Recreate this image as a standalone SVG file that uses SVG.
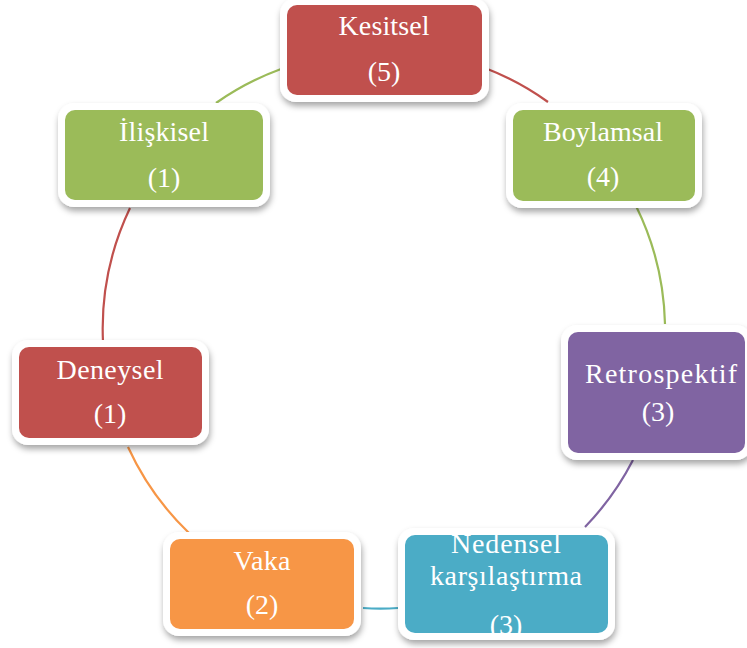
<svg xmlns="http://www.w3.org/2000/svg" width="747" height="648" viewBox="0 0 747 648">
<defs>
<filter id="sh" x="-10%" y="-10%" width="120%" height="130%">
<feDropShadow dx="1" dy="4" stdDeviation="3" flood-color="#000" flood-opacity="0.35"/>
</filter>
<style>
.frame{fill:#fff;filter:url(#sh);}
.t{font-family:"Liberation Serif","Times New Roman",serif;font-size:28px;fill:#fff;text-anchor:middle;}
.c{fill:none;stroke-width:2.2;}
</style>
</defs>
<rect width="747" height="648" fill="#fff"/>
<g id="connectors">
<path class="c" stroke="#C0504D" d="M485,68 A281,281 0 0 1 548,102"/>
<path class="c" stroke="#9BBB59" d="M636,206 A281,281 0 0 1 665,324"/>
<path class="c" stroke="#8064A2" d="M633,460 A281,281 0 0 1 585,527"/>
<path class="c" stroke="#4BACC6" d="M398,608 A281,281 0 0 1 363,608"/>
<path class="c" stroke="#F79646" d="M189,533 A281,281 0 0 1 128,447"/>
<path class="c" stroke="#C0504D" d="M103,342 A281,281 0 0 1 130,208"/>
<path class="c" stroke="#9BBB59" d="M216,103 A281,281 0 0 1 281,69"/>
</g>
<g id="kesitsel">
<rect class="frame" x="280" y="-2" width="209" height="104" rx="16"/>
<rect x="287" y="5" width="195" height="90" rx="10" fill="#C0504D"/>
<text class="t" x="384" y="35" textLength="91" lengthAdjust="spacing">Kesitsel</text>
<text class="t" x="384" y="81">(5)</text>
</g>
<g id="boylamsal">
<rect class="frame" x="506" y="103" width="196" height="105" rx="16"/>
<rect x="513" y="110" width="182" height="91" rx="10" fill="#9BBB59"/>
<text class="t" x="603" y="141" textLength="120" lengthAdjust="spacing">Boylamsal</text>
<text class="t" x="603" y="186">(4)</text>
</g>
<g id="retrospektif">
<rect class="frame" x="561" y="325" width="191" height="135" rx="16"/>
<rect x="568" y="332" width="177" height="121" rx="10" fill="#8064A2"/>
<text class="t" x="661" y="383" textLength="152" lengthAdjust="spacing">Retrospektif</text>
<text class="t" x="658" y="421">(3)</text>
</g>
<g id="nedensel">
<rect class="frame" x="398" y="528" width="217" height="112" rx="16"/>
<rect x="405" y="535" width="203" height="98" rx="10" fill="#4BACC6"/>
<text class="t" x="506" y="553" textLength="110" lengthAdjust="spacing">Nedensel</text>
<text class="t" x="506" y="585" textLength="152" lengthAdjust="spacing">karşılaştırma</text>
<text class="t" x="506" y="634">(3)</text>
</g>
<g id="vaka">
<rect class="frame" x="163" y="532" width="198" height="104" rx="16"/>
<rect x="170" y="539" width="184" height="90" rx="10" fill="#F79646"/>
<text class="t" x="262" y="570" textLength="57" lengthAdjust="spacing">Vaka</text>
<text class="t" x="262" y="614">(2)</text>
</g>
<g id="deneysel">
<rect class="frame" x="12" y="340" width="197" height="105" rx="16"/>
<rect x="19" y="347" width="183" height="91" rx="10" fill="#C0504D"/>
<text class="t" x="110" y="379" textLength="107" lengthAdjust="spacing">Deneysel</text>
<text class="t" x="110" y="423">(1)</text>
</g>
<g id="iliskisel">
<rect class="frame" x="58" y="103" width="212" height="104" rx="16"/>
<rect x="65" y="110" width="198" height="90" rx="10" fill="#9BBB59"/>
<text class="t" x="164" y="141" textLength="90" lengthAdjust="spacing">İlişkisel</text>
<text class="t" x="164" y="187">(1)</text>
</g>
</svg>
